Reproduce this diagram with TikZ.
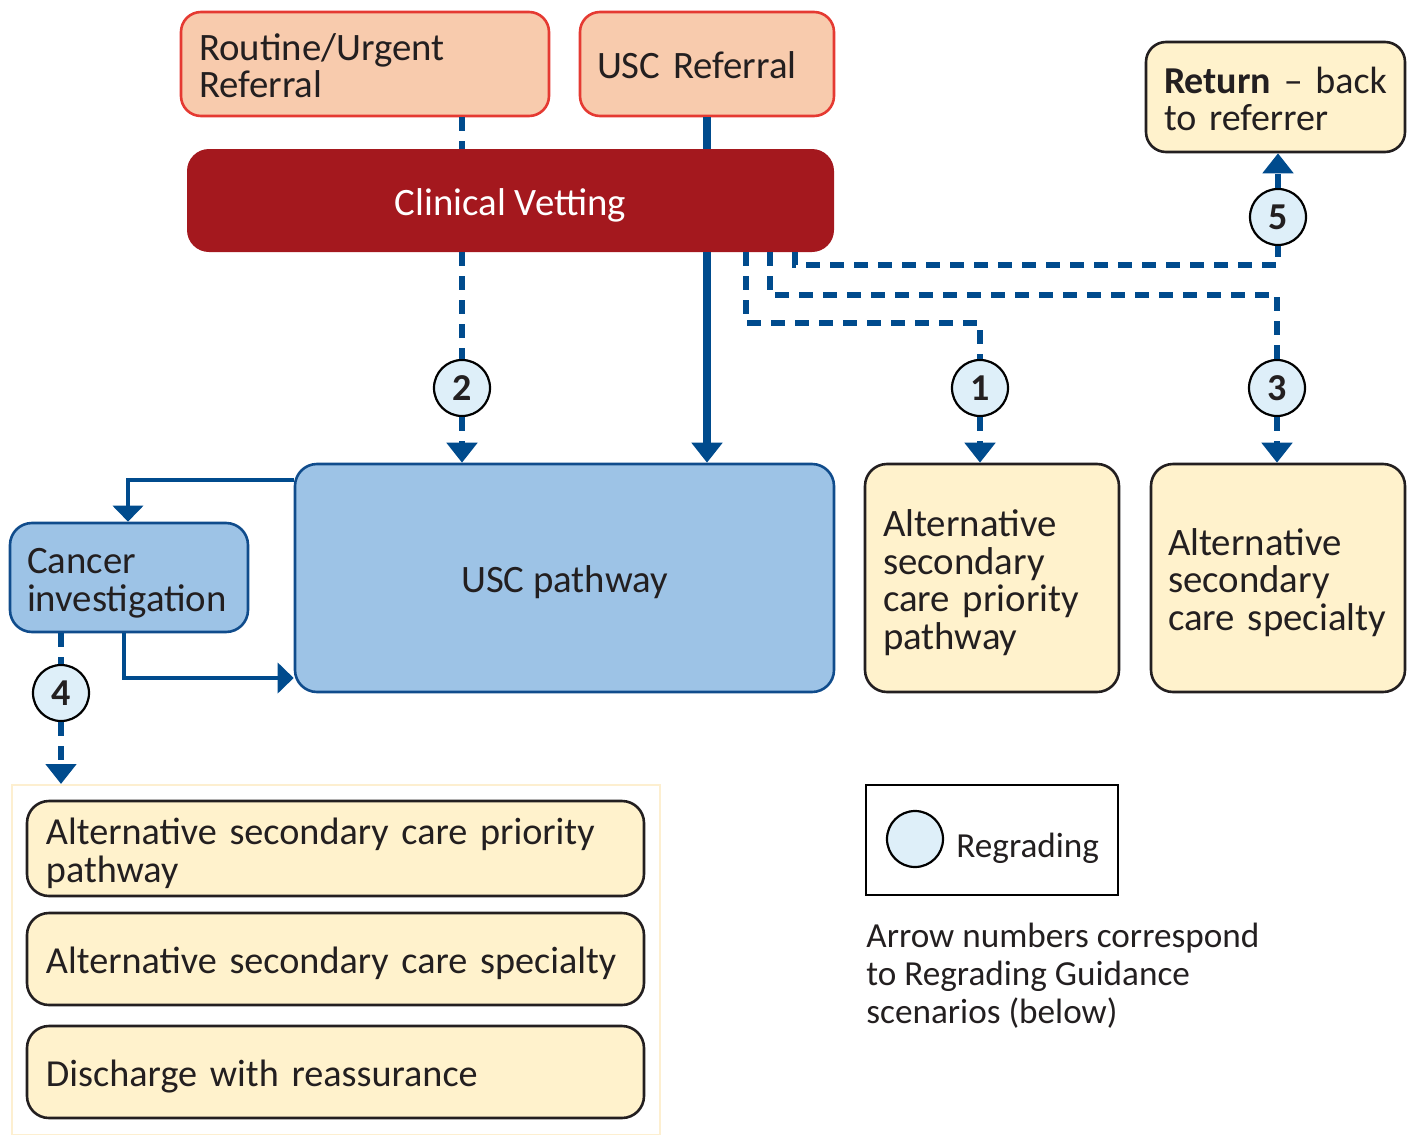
\documentclass[tikz,border=0pt]{standalone}
\usepackage{fontspec}
\setmainfont{Carlito}
\usetikzlibrary{arrows.meta}
\hyphenpenalty=10000
\exhyphenpenalty=10000
\definecolor{peach}{HTML}{F8CBAD}
\definecolor{pred}{HTML}{E53A32}
\definecolor{cvred}{HTML}{A4181E}
\definecolor{bfill}{HTML}{9DC3E6}
\definecolor{bline}{HTML}{104C8C}
\definecolor{conn}{HTML}{004B8D}
\definecolor{yfill}{HTML}{FFF2CC}
\definecolor{ybord}{HTML}{231F20}
\definecolor{cfill}{HTML}{DEEFF9}
\definecolor{contb}{HTML}{FDEFD0}
\definecolor{txt}{HTML}{231F20}
\begin{document}
\begin{tikzpicture}[x=0.5pt,y=-0.5pt,
  base/.style={font=\fontsize{19.4}{18.8}\selectfont, text=txt, inner ysep=0pt, text height=17pt, text depth=2.1pt},
  two/.style={text depth=20.9pt},
  three/.style={text depth=39.7pt},
  four/.style={text depth=58.5pt},
  peachbox/.style={base, draw=pred, fill=peach, line width=1.3pt, rounded corners=10pt, align=left},
  yelbox/.style={base, draw=ybord, fill=yfill, line width=1.3pt, rounded corners=11pt, align=left},
  bluebox/.style={base, draw=bline, fill=bfill, line width=1.3pt, rounded corners=11pt},
  botfont/.style={font=\fontsize{19.1}{18.8}\selectfont},
  regc/.style={circle, draw=black, fill=cfill, line width=1.1pt, minimum size=28pt, inner sep=0pt, font=\fontsize{19}{19}\selectfont\bfseries, text=txt},
  smalltext/.style={font=\fontsize{17.6}{18.8}\selectfont, text=txt, inner sep=0pt},
  dashline/.style={draw=conn, line width=2.7pt, dash pattern=on 7pt off 5pt},
  solidline/.style={draw=conn, line width=3.8pt},
  loopline/.style={draw=conn, line width=2.2pt},
  tip/.style={-{Triangle[width=15pt,length=10pt]}},
  tipsmall/.style={-{Triangle[width=15pt,length=8pt]}}
]
\useasboundingbox (0,0) rectangle (1414,1135);

% boxes
\node[peachbox, two, text width=166pt, inner xsep=9pt, minimum height=52pt] (routine) at (365,64) {Routine/Urgent\\Referral};
\node[peachbox, text width=110pt, inner xsep=8.5pt, minimum height=52pt] (uscref) at (707,64) {USC Referral};
\node[base, fill=cvred, rounded corners=11pt, minimum width=323.5pt, minimum height=51.5pt, text=white] (cv) at (510.5,200.5) {Clinical Vetting};
\node[yelbox, two, font=\fontsize{19}{18.8}\selectfont, text width=111.5pt, inner xsep=9pt, minimum height=55pt, rounded corners=10pt] (ret) at (1275.5,97) {\mbox{\textbf{Return} – back}\\to referrer};

\node[bluebox, minimum width=269.5pt, minimum height=114pt] (usc) at (564.5,578) {USC pathway};
\node[bluebox, two, align=left, text width=102pt, inner xsep=8.5pt, minimum height=54.5pt] (canc) at (129,577.5) {Cancer\\investigation};
\node[yelbox, four, text width=109pt, inner xsep=9pt, minimum height=114pt] (alt1) at (992,578) {Alternative\\secondary\\care priority\\pathway};
\node[yelbox, three, text width=110pt, inner xsep=8.5pt, minimum height=114pt] (alt2) at (1278,578) {Alternative\\secondary\\care specialty};

\node[draw=contb, line width=1pt, minimum width=324pt, minimum height=175pt, inner sep=0pt] (cont) at (336,960) {};
\node[yelbox, two, botfont, text width=289.5pt, inner xsep=9.5pt, minimum height=47.5pt] (b1) at (335.5,848.5) {Alternative secondary care priority\\pathway};
\node[yelbox, botfont, text width=289.5pt, inner xsep=9.5pt, minimum height=46pt] (b2) at (335.5,959) {\mbox{Alternative secondary care specialty}};
\node[yelbox, botfont, text width=289.5pt, inner xsep=9.5pt, minimum height=46pt] (b3) at (335.5,1072) {Discharge with reassurance};

% legend
\node[draw=black, line width=1.1pt, minimum width=126pt, minimum height=55pt, inner sep=0pt] (leg) at (992,840) {};
\node[regc] (legc) at (915,839) {};
\node[smalltext, anchor=west] (legt) at (956,848) {Regrading};
\node[smalltext, anchor=north west, align=left] (note) at (866,923) {Arrow numbers correspond\\to Regrading Guidance\\scenarios (below)};

% regrading circles
\node[regc] (c2) at (462,388) {2};
\node[regc] (c1) at (980,388) {1};
\node[regc] (c3) at (1277,388) {3};
\node[regc] (c5) at (1278,217) {5};
\node[regc] (c4) at (61,693) {4};

% bend coordinates
\coordinate (k1) at (746,323);
\coordinate (k3) at (770,295);
\coordinate (k5) at (795,265);
\coordinate (k6) at (128,480);
\coordinate (k7) at (124,678);

% connectors
\draw[dashline] (routine.south -| c2) -- (cv.north -| c2);
\draw[dashline] (cv.south -| c2) -- (c2.north);
\draw[dashline, tip] (c2.south) -- (usc.north -| c2);

\draw[solidline] (uscref.south) -- (cv.north -| uscref);
\draw[solidline, tip] (cv.south -| uscref) -- (usc.north -| uscref);

\draw[dashline] (cv.south -| k1) -- (k1) -| (c1.north);
\draw[dashline, tip] (c1.south) -- (alt1.north -| c1);

\draw[dashline] (cv.south -| k3) -- (k3) -| (c3.north);
\draw[dashline, tip] (c3.south) -- (alt2.north -| c3);

\draw[dashline] (cv.south -| k5) -- (k5) -| (c5.south);
\draw[dashline, tip] (c5.north) -- (ret.south -| c5);

\draw[loopline, tipsmall] (usc.west |- k6) -- (k6) -- (canc.north -| k6);
\draw[loopline, tipsmall] (canc.south -| k7) -- (k7) -- (usc.west |- k7);

\draw[dashline] (canc.south -| c4) -- (c4.north);
\draw[dashline, tip] (c4.south) -- (cont.north -| c4);
\end{tikzpicture}
\end{document}
